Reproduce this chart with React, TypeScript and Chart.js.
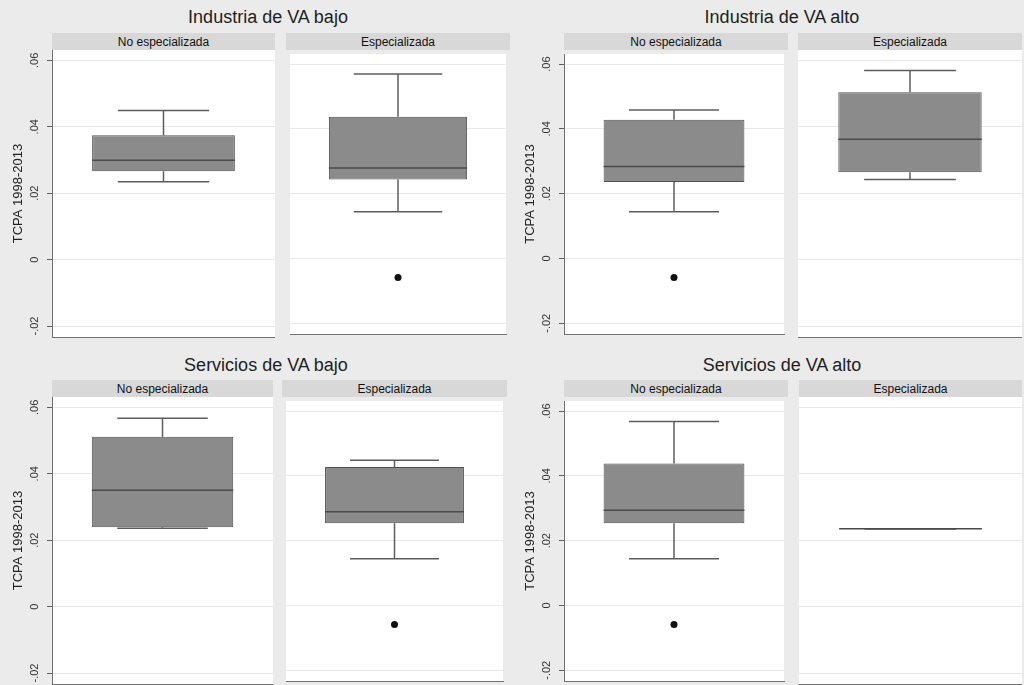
import React, { useEffect, useRef } from "react";
import { Chart, registerables } from "chart.js";

Chart.register(...registerables);

// ---------------- data ----------------
const panelTitles = [
  "Industria de VA bajo",
  "Industria de VA alto",
  "Servicios de VA bajo",
  "Servicios de VA alto",
];
const groupLabels = ["No especializada", "Especializada"];
const yAxisTitle = "TCPA 1998-2013";
const yTickValues = [-0.02, 0, 0.02, 0.04, 0.06];
const yTickLabels = ["-.02", "0", ".02", ".04", ".06"];

// [panel][group]
const whiskerLow = [
  [0.0234, 0.0144],
  [0.0144, 0.0241],
  [0.0236, 0.0144],
  [0.0144, 0.0234],
];
const q1Values = [
  [0.0266, 0.0244],
  [0.0236, 0.0263],
  [0.0239, 0.0254],
  [0.0254, 0.0234],
];
const medianValues = [
  [0.0299, 0.0279],
  [0.0284, 0.0362],
  [0.035, 0.0289],
  [0.0294, 0.0234],
];
const q3Values = [
  [0.0374, 0.0437],
  [0.0428, 0.0504],
  [0.0511, 0.0427],
  [0.0438, 0.0234],
];
const whiskerHigh = [
  [0.0449, 0.0569],
  [0.0458, 0.0569],
  [0.0567, 0.0448],
  [0.0568, 0.0234],
];
const outliers: number[][][] = [
  [[], [-0.0059]],
  [[-0.0059], []],
  [[], [-0.0059]],
  [[-0.0059], []],
];

const Y_MIN = -0.0233;
const Y_MAX = 0.0631;

// ---------------- layout / style ----------------
const FONT = '"Liberation Sans", Arial, Helvetica, sans-serif';
const PAGE_BG = "#ebebeb";
const STRIP_BG = "#d8d8d8";
const PLOT_H = 287;
const AXIS_W = 52;
const rowGeom = [
  { titleTop: 8, stripTop: 33, plotTop: 50 },
  { titleTop: 356, stripTop: 380, plotTop: 397 },
];
const panelGeom = [
  { row: 0, titleX: 268, subs: [[52, 275], [286, 510]] },
  { row: 0, titleX: 782, subs: [[564, 788], [798, 1022]] },
  { row: 1, titleX: 266, subs: [[52, 273], [282, 507]] },
  { row: 1, titleX: 782, subs: [[564, 788], [799, 1022]] },
];

type SubProps = {
  panel: number;
  group: number;
  left: number;
  top: number;
  width: number;
  height: number;
  axisWidth: number;
};

function SubPanel({ panel, group, left, top, width, height, axisWidth }: SubProps) {
  const ref = useRef<HTMLCanvasElement>(null);

  useEffect(() => {
    const canvas = ref.current;
    if (!canvas) return;
    const withAxis = axisWidth > 0;
    const label = groupLabels[group];
    const stats = {
      lo: whiskerLow[panel][group],
      q1: q1Values[panel][group],
      med: medianValues[panel][group],
      q3: q3Values[panel][group],
      hi: whiskerHigh[panel][group],
    };

    const plotBg = {
      id: "plotBg",
      beforeDraw(c: any) {
        const { ctx, chartArea: a } = c;
        ctx.save();
        ctx.fillStyle = "#ffffff";
        ctx.fillRect(a.left, a.top, a.right - a.left, a.bottom - a.top);
        ctx.restore();
      },
    };

    const boxWhisker = {
      id: "boxWhisker",
      afterDatasetsDraw(c: any) {
        const bar = c.getDatasetMeta(0).data[0];
        if (!bar) return;
        const { x, width: w } = bar.getProps(["x", "width"], true);
        const ys = c.scales.y;
        const ctx = c.ctx;
        const line = (x1: number, y1: number, x2: number, y2: number) => {
          ctx.beginPath();
          ctx.moveTo(x1, y1);
          ctx.lineTo(x2, y2);
          ctx.stroke();
        };
        const pHi = ys.getPixelForValue(stats.hi);
        const pQ3 = ys.getPixelForValue(stats.q3);
        const pQ1 = ys.getPixelForValue(stats.q1);
        const pLo = ys.getPixelForValue(stats.lo);
        const pMed = ys.getPixelForValue(stats.med);
        const cap = w * 0.64;
        ctx.save();
        ctx.strokeStyle = "#5c5c5c";
        ctx.lineWidth = 1.5;
        line(x, pQ3, x, pHi);
        line(x - cap / 2, pHi, x + cap / 2, pHi);
        line(x, pQ1, x, pLo);
        line(x - cap / 2, pLo, x + cap / 2, pLo);
        ctx.strokeStyle = "#4a4a4a";
        line(x - w / 2, pMed, x + w / 2, pMed);
        ctx.restore();
      },
    };

    const yLabels = {
      id: "yLabels",
      afterDraw(c: any) {
        if (!withAxis) return;
        const ys = c.scales.y;
        const ctx = c.ctx;
        ctx.save();
        ctx.fillStyle = "#333333";
        ctx.font = `11px ${FONT}`;
        ctx.textAlign = "center";
        ctx.textBaseline = "middle";
        yTickValues.forEach((v, i) => {
          const py = ys.getPixelForValue(v);
          ctx.save();
          ctx.translate(ys.right - 17, py);
          ctx.rotate(-Math.PI / 2);
          ctx.fillText(yTickLabels[i], 0, 0);
          ctx.restore();
        });
        ctx.restore();
      },
    };

    const chart = new Chart(canvas, {
      type: "bar",
      data: {
        labels: [label],
        datasets: [
          {
            type: "bar",
            data: [[stats.q1, stats.q3]] as any,
            backgroundColor: "#8b8b8b",
            borderColor: "#505050",
            borderWidth: 1,
            borderSkipped: false,
            barPercentage: 0.64,
            categoryPercentage: 1,
          } as any,
          {
            type: "line",
            data: outliers[panel][group].map((v) => ({ x: label, y: v })) as any,
            showLine: false,
            pointRadius: 3.5,
            pointBackgroundColor: "#111111",
            pointBorderColor: "#111111",
            pointBorderWidth: 0,
          } as any,
        ],
      },
      options: {
        responsive: false,
        animation: false,
        devicePixelRatio: 1,
        events: [],
        layout: { padding: { top: 0, left: 0, right: 0, bottom: 1 } },
        plugins: {
          legend: { display: false },
          tooltip: { enabled: false },
          title: { display: false },
        },
        scales: {
          x: {
            type: "category",
            display: true,
            offset: true,
            grid: { display: false },
            ticks: { display: false },
            border: { display: true, color: "#707070", width: 1 },
            afterFit: (s: any) => {
              s.height = 0;
            },
          },
          y: {
            type: "linear",
            min: Y_MIN,
            max: Y_MAX,
            afterBuildTicks: (s: any) => {
              s.ticks = yTickValues.map((value) => ({ value }));
            },
            afterFit: (s: any) => {
              s.width = axisWidth;
            },
            ticks: { display: false },
            grid: {
              color: "#e9e9e9",
              lineWidth: 1,
              drawTicks: withAxis,
              tickLength: 5,
              tickColor: "#606060",
              tickWidth: 1,
            },
            border: { display: withAxis, color: "#707070", width: 1 },
            title: {
              display: withAxis,
              text: yAxisTitle,
              color: "#222222",
              font: { size: 13, family: FONT },
              padding: { top: 11, bottom: 0 },
            },
          },
        },
      } as any,
      plugins: [plotBg, boxWhisker, yLabels],
    });

    return () => chart.destroy();
  }, [panel, group, axisWidth]);

  return (
    <canvas
      ref={ref}
      width={width}
      height={height}
      style={{ position: "absolute", left, top, width, height, display: "block" }}
    />
  );
}

export default function App() {
  Chart.defaults.font.family = FONT;
  return (
    <div
      style={{
        position: "absolute",
        left: 0,
        top: 0,
        width: 1024,
        height: 685,
        overflow: "hidden",
        background: PAGE_BG,
        fontFamily: FONT,
      }}
    >
      {panelGeom.map((pg, p) => {
        const rg = rowGeom[pg.row];
        return (
          <React.Fragment key={p}>
            <div
              style={{
                position: "absolute",
                left: pg.titleX - 200,
                width: 400,
                top: rg.titleTop,
                fontSize: 18,
                lineHeight: "18px",
                textAlign: "center",
                color: "#1e1e1e",
                whiteSpace: "nowrap",
              }}
            >
              {panelTitles[p]}
            </div>
            {pg.subs.map((s, g) => (
              <div
                key={"strip" + g}
                style={{
                  position: "absolute",
                  left: s[0],
                  width: s[1] - s[0],
                  top: rg.stripTop,
                  height: rg.plotTop - rg.stripTop,
                  background: STRIP_BG,
                  display: "flex",
                  alignItems: "center",
                  justifyContent: "center",
                  fontSize: 12,
                  color: "#111111",
                  whiteSpace: "nowrap",
                }}
              >
                {groupLabels[g]}
              </div>
            ))}
            {pg.subs.map((s, g) => {
              const axisWidth = g === 0 ? AXIS_W : 0;
              const left = s[0] - axisWidth;
              return (
                <SubPanel
                  key={"c" + g}
                  panel={p}
                  group={g}
                  left={left}
                  top={rg.plotTop}
                  width={s[1] - left}
                  height={PLOT_H + 1}
                  axisWidth={axisWidth}
                />
              );
            })}
          </React.Fragment>
        );
      })}
    </div>
  );
}
